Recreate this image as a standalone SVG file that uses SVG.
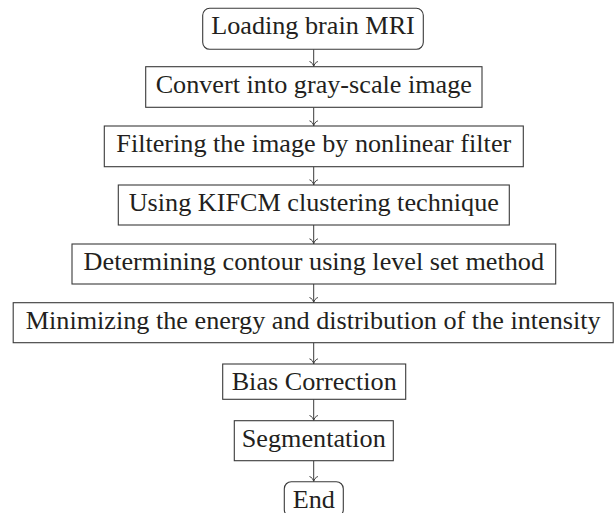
<svg xmlns="http://www.w3.org/2000/svg" width="614" height="513" viewBox="0 0 614 513">
<style>
.box{fill:#fff;stroke:#3a3a3a;stroke-width:1.1}
text{font-family:'Liberation Serif', 'Times New Roman', Times, serif;font-size:26.2px;fill:#231f20;text-anchor:middle}
.c{stroke:#3a3a3a;stroke-width:1;fill:none;marker-end:url(#to)}
</style>
<defs>
<marker id="to" markerUnits="userSpaceOnUse" viewBox="-6 -6 7 12" refX="0" refY="0" markerWidth="7" markerHeight="12" orient="auto">
<path d="M-5,-4.2 C-4.1,-1.8 -2,-0.35 0,0 C-2,0.35 -4.1,1.8 -5,4.2" fill="none" stroke="#3a3a3a" stroke-width="1"/>
</marker>
</defs>
<rect width="614" height="513" fill="#fff"/>
<g id="connectors">
<line class="c" x1="313.7" y1="49.3" x2="313.7" y2="66.5"/>
<line class="c" x1="313.7" y1="107.3" x2="313.7" y2="125.8"/>
<line class="c" x1="313.7" y1="166.7" x2="313.7" y2="184.8"/>
<line class="c" x1="313.7" y1="225" x2="313.7" y2="243.8"/>
<line class="c" x1="313.7" y1="284" x2="313.7" y2="302.5"/>
<line class="c" x1="313.7" y1="342.7" x2="313.7" y2="363.8"/>
<line class="c" x1="313.7" y1="399.3" x2="313.7" y2="420.5"/>
<line class="c" x1="313.7" y1="460.7" x2="313.7" y2="481.5"/>
</g>
<g id="n1"><rect class="box" x="202.7" y="8.3" width="220.6" height="41" rx="7"/><text x="313" y="34.4">Loading brain MRI</text></g>
<g id="n2"><rect class="box" x="145.7" y="66.7" width="336.3" height="40.6"/><text x="313.8" y="92.8">Convert into gray-scale image</text></g>
<g id="n3"><rect class="box" x="104.3" y="126" width="419" height="40.7"/><text x="313.8" y="152.1">Filtering the image by nonlinear filter</text></g>
<g id="n4"><rect class="box" x="118.3" y="185" width="391" height="40"/><text x="313.8" y="211.1">Using KIFCM clustering technique</text></g>
<g id="n5"><rect class="box" x="72" y="244" width="483.7" height="40"/><text x="313.8" y="270.1">Determining contour using level set method</text></g>
<g id="n6"><rect class="box" x="13.2" y="302.7" width="600" height="40"/><text x="313.2" y="328.8">Minimizing the energy and distribution of the intensity</text></g>
<g id="n7"><rect class="box" x="222.7" y="364" width="183" height="35.3"/><text x="314.2" y="390">Bias Correction</text></g>
<g id="n8"><rect class="box" x="234.3" y="420.7" width="159" height="40"/><text x="313.8" y="446.8">Segmentation</text></g>
<g id="n9"><rect class="box" x="284.3" y="481.7" width="59" height="35" rx="7"/><text x="313.8" y="507.8">End</text></g>
</svg>
